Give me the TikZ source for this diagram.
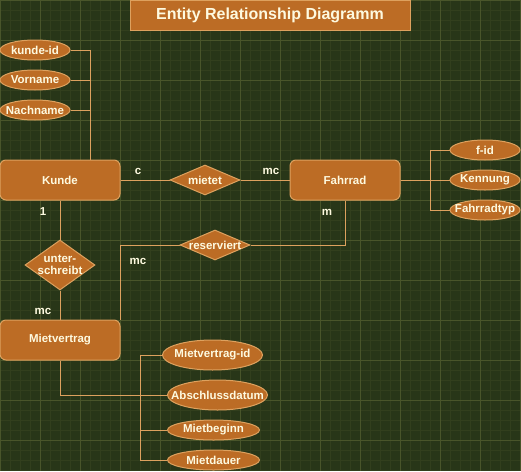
\documentclass[tikz,border=0pt]{standalone}
\usepackage{fontspec}
\setmainfont{Liberation Sans}
\usepackage{tikz}
\usetikzlibrary{positioning, shapes.geometric, calc}

\definecolor{erbg}{HTML}{283618}
\definecolor{ergrid}{HTML}{606C38}
\definecolor{errust}{HTML}{BC6C25}
\definecolor{ersand}{HTML}{DDA15E}
\definecolor{ercream}{HTML}{FEFAE0}

% text that does not widen its shape
\newcommand{\fixlabel}[1]{\makebox[0pt]{#1}}

\begin{document}
\begin{tikzpicture}[
    x=1pt, y=-1pt,
    entity/.style={rectangle, rounded corners=6pt, draw=ersand, fill=errust, text=ercream,
                   line width=1pt, minimum width=120pt, minimum height=40pt,
                   font=\fontsize{11.5}{14}\selectfont\bfseries},
    attr/.style={ellipse, draw=ersand, fill=errust, text=ercream, line width=1pt, inner sep=0pt,
                 minimum width=70pt, minimum height=20pt, font=\fontsize{11.5}{14}\selectfont\bfseries},
    rel/.style={diamond, draw=ersand, fill=errust, text=ercream, line width=1pt, inner sep=0pt,
                minimum width=70pt, minimum height=30pt,
                font=\fontsize{11.5}{13}\selectfont\bfseries},
    card/.style={text=ercream, font=\fontsize{11.5}{14}\selectfont\bfseries},
    line/.style={draw=ersand, line width=1pt}
]

    % Background and grid
    \useasboundingbox (0,0) rectangle (521,471);
    \fill[erbg] (0,0) rectangle (521,471);
    \draw[ergrid, opacity=0.18, line width=0.7pt, step=10pt] (0,0) grid (521,471);
    \draw[ergrid, opacity=0.5, line width=0.8pt, step=40pt] (0,0) grid (521,471);

    % Title
    \node[rectangle, draw=ersand, fill=errust, text=ercream, line width=1pt,
          minimum width=280pt, minimum height=30pt, font=\fontsize{16}{19}\selectfont\bfseries]
          (title) at (270, 15) {Entity Relationship Diagramm};

    % Entities
    \node[entity] (kunde) at (60, 180) {Kunde};
    \node[entity, minimum width=110pt] (fahrrad) at (345, 180) {Fahrrad};
    \node[entity] (vertrag) at (60, 340) {Mietvertrag};

    % Relationships
    \node[rel] (mietet) at (205, 180) {\fixlabel{mietet}};
    \node[rel] (reserviert) at (215, 245) {\fixlabel{reserviert}};
    \node[rel, minimum height=50pt] (unterschreibt) at (60, 265) {\fixlabel{\shortstack{unter-\\schreibt}}};

    % Kunde attributes
    \node[attr] (kid) at (35, 50) {\fixlabel{kunde-id}};
    \node[attr] (vorname) at (35, 80) {\fixlabel{Vorname}};
    \node[attr] (nachname) at (35, 110) {\fixlabel{Nachname}};

    % Fahrrad attributes
    \node[attr] (fid) at (485, 150) {\fixlabel{f-id}};
    \node[attr] (kennung) at (485, 180) {\fixlabel{Kennung}};
    \node[attr] (typ) at (485, 210) {\fixlabel{Fahrradtyp}};

    % Mietvertrag attributes
    \node[attr, minimum width=100pt, minimum height=30pt] (vid) at (212.5, 355) {\fixlabel{Mietvertrag-id}};
    \node[attr, minimum width=100pt, minimum height=30pt] (datum) at (217.5, 395) {\fixlabel{Abschlussdatum}};
    \node[attr, minimum width=92pt] (beginn) at (213.5, 430) {\fixlabel{Mietbeginn}};
    \node[attr, minimum width=92pt] (dauer) at (213.5, 460) {\fixlabel{Mietdauer}};

    % Junction points
    \coordinate (kj) at ([xshift=30pt]kunde.north);
    \coordinate (fj) at (430, 180);
    \coordinate (vtop) at (140, 355);
    \coordinate (vbot) at (140, 460);

    % Connectors - Kunde
    \draw[line] (kid) -| (kj);
    \draw[line] (vorname) -| (kj);
    \draw[line] (nachname) -| (kj);
    \draw[line] (kunde) -- (mietet);
    \draw[line] (mietet) -- (fahrrad);
    \draw[line] (kunde) -- (unterschreibt);
    \draw[line] (unterschreibt) -- (vertrag);

    % Connectors - Fahrrad
    \draw[line] (fahrrad) -- (fj);
    \draw[line] (fj) |- (fid);
    \draw[line] (fj) |- (typ);
    \draw[line] (fj) -- (kennung);
    \draw[line] (fahrrad.south) |- (reserviert.east);
    \draw[line] (reserviert.west) -| (vertrag.north east);

    % Connectors - Mietvertrag
    \draw[line] (vid.west) -- (vtop) -- (vbot) -- (dauer.west);
    \draw[line] (vertrag.south) |- (datum.west);
    \draw[line] (beginn.west) -- (beginn.west -| vtop);

    % Cardinalities
    \node[card] (c1) at (138, 171) {c};
    \node[card] (c2) at (271, 171) {mc};
    \node[card] (c3) at (43, 212) {1};
    \node[card] (c4) at (327, 212) {m};
    \node[card] (c5) at (138, 261) {mc};
    \node[card] (c6) at (43, 311) {mc};

\end{tikzpicture}
\end{document}
